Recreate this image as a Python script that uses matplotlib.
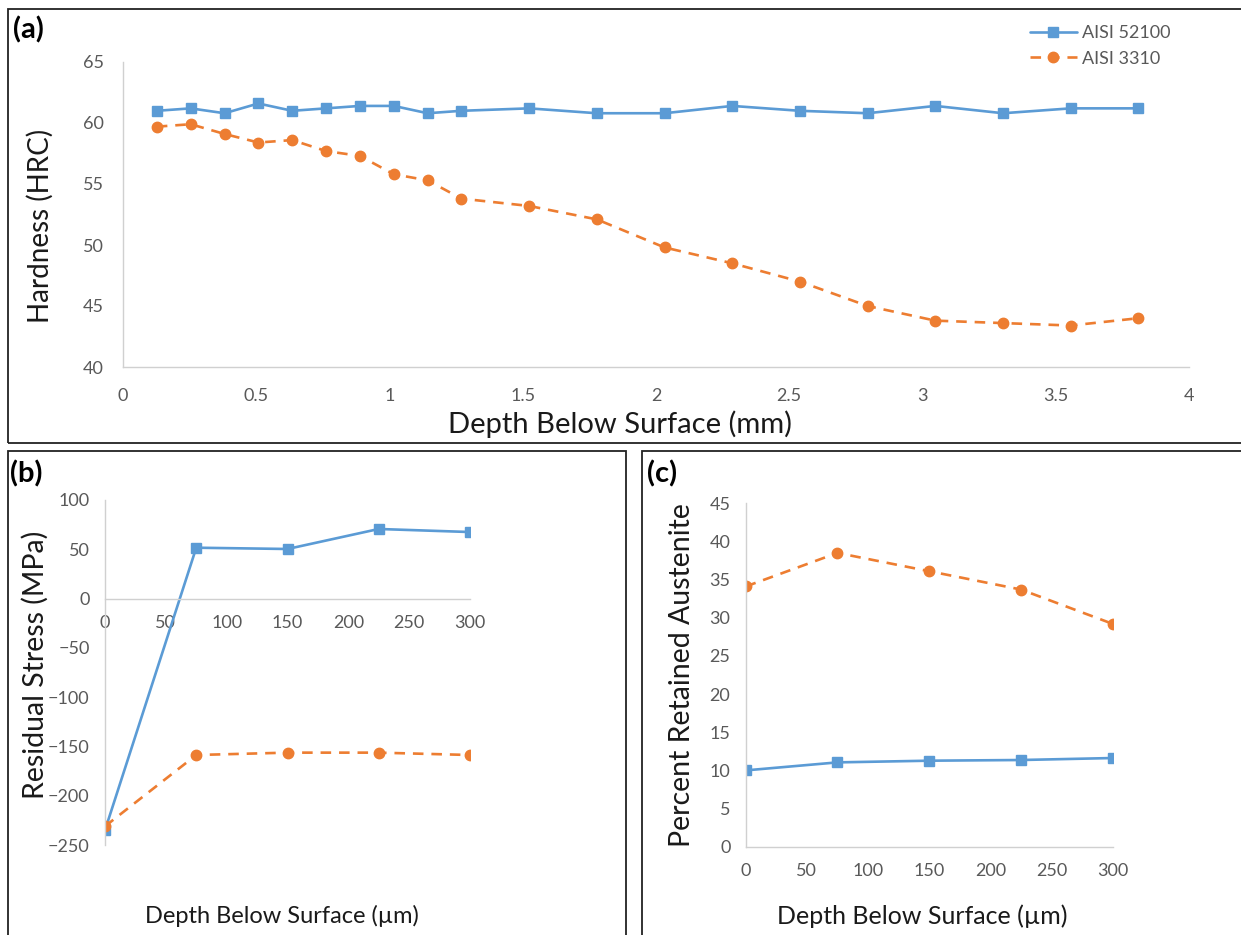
import matplotlib
matplotlib.use("Agg")
import matplotlib.pyplot as plt
from matplotlib.patches import Rectangle

plt.rcParams['font.family'] = ['Lato', 'DejaVu Sans']

# ---------------- data ----------------
depth_mm = [0.127, 0.254, 0.381, 0.508, 0.635, 0.762, 0.889, 1.016, 1.143, 1.270,
            1.524, 1.778, 2.032, 2.286, 2.540, 2.794, 3.048, 3.302, 3.556, 3.810]
hrc_52100 = [61.0, 61.2, 60.8, 61.6, 61.0, 61.2, 61.4, 61.4, 60.8, 61.0,
             61.2, 60.8, 60.8, 61.4, 61.0, 60.8, 61.4, 60.8, 61.2, 61.2]
hrc_3310 = [59.7, 59.9, 59.1, 58.4, 58.6, 57.7, 57.3, 55.8, 55.3, 53.8,
            53.2, 52.1, 49.8, 48.5, 47.0, 45.0, 43.8, 43.6, 43.4, 44.0]

depth_um = [0, 75, 150, 225, 300]
rs_52100 = [-235, 51.6, 50.3, 70.6, 67.5]
rs_3310 = [-231, -158.7, -156.3, -156.3, -158.7]
ra_52100 = [10.0, 11.05, 11.27, 11.36, 11.62]
ra_3310 = [34.1, 38.5, 36.1, 33.7, 29.2]

labels = ['AISI 52100', 'AISI 3310']
blue = '#5B9BD5'
orange = '#ED7D31'
tick_color = '#595959'
spine_color = '#D0D0D0'

W, H = 1241, 935
fig = plt.figure(figsize=(W / 100, H / 100), dpi=100)

def fx(px):
    return px / W

def fy(py):
    return 1 - py / H

def axes_px(l, r, t, b):
    return fig.add_axes([fx(l), fy(b), fx(r) - fx(l), fy(t) - fy(b)])

def style(ax, xpad, ypad, fs=13):
    for s in ['top', 'right']:
        ax.spines[s].set_visible(False)
    for s in ['left', 'bottom']:
        ax.spines[s].set_color(spine_color)
        ax.spines[s].set_linewidth(1.0)
    ax.tick_params(axis='both', length=0, labelcolor=tick_color, labelsize=fs)
    ax.tick_params(axis='x', pad=xpad)
    ax.tick_params(axis='y', pad=ypad)
    ax.patch.set_visible(False)

line_kw_b = dict(color=blue, lw=1.9, marker='s', ms=7.5, solid_capstyle='round')
line_kw_o = dict(color=orange, lw=1.9, ls=(0, (4, 3)), marker='o', ms=7.5)

# ---------------- panel (a) ----------------
axa = axes_px(123, 1189, 62, 367)
axa.plot(depth_mm, hrc_52100, label=labels[0], **line_kw_b)
axa.plot(depth_mm, hrc_3310, label=labels[1], **line_kw_o)
axa.set_xlim(0, 4)
axa.set_ylim(40, 65)
axa.set_xticks([0, 0.5, 1, 1.5, 2, 2.5, 3, 3.5, 4])
axa.set_xticklabels(['0', '0.5', '1', '1.5', '2', '2.5', '3', '3.5', '4'])
axa.set_yticks([40, 45, 50, 55, 60, 65])
style(axa, xpad=15, ypad=14)
leg = axa.legend(loc='center left', bbox_to_anchor=(fx(1030), fy(46)),
                 bbox_transform=fig.transFigure, frameon=False, fontsize=13,
                 handlelength=2.6, handletextpad=0.3, labelspacing=0.5,
                 borderpad=0, borderaxespad=0)
for t in leg.get_texts():
    t.set_color(tick_color)
fig.text(fx(620), fy(424), 'Depth Below Surface (mm)', ha='center', va='center',
         fontsize=21, color='#1a1a1a')
fig.text(fx(40), fy(226), 'Hardness (HRC)', ha='center', va='center',
         fontsize=20, rotation=90, color='#1a1a1a')

# ---------------- panel (b) ----------------
axb = axes_px(105, 470, 500, 845)
axb.plot(depth_um, rs_52100, **line_kw_b)
axb.plot(depth_um, rs_3310, **line_kw_o)
axb.set_xlim(0, 300)
axb.set_ylim(-250, 100)
axb.set_xticks([0, 50, 100, 150, 200, 250, 300])
axb.set_yticks([-250, -200, -150, -100, -50, 0, 50, 100])
style(axb, xpad=12, ypad=11)
axb.spines['bottom'].set_position(('data', 0))
fig.text(fx(282), fy(916), 'Depth Below Surface (\u00b5m)', ha='center', va='center',
         fontsize=17, color='#1a1a1a')
fig.text(fx(35), fy(665), 'Residual Stress (MPa)', ha='center', va='center',
         fontsize=20.5, rotation=90, color='#1a1a1a')

# ---------------- panel (c) ----------------
axc = axes_px(745.7, 1112.7, 503.3, 846.7)
axc.plot(depth_um, ra_52100, **line_kw_b)
axc.plot(depth_um, ra_3310, **line_kw_o)
axc.set_xlim(0, 300)
axc.set_ylim(0, 45)
axc.set_xticks([0, 50, 100, 150, 200, 250, 300])
axc.set_yticks(list(range(0, 50, 5)))
style(axc, xpad=12, ypad=11)
fig.text(fx(922), fy(916), 'Depth Below Surface (\u00b5m)', ha='center', va='center',
         fontsize=18, color='#1a1a1a')
fig.text(fx(682), fy(675), 'Percent Retained Austenite', ha='center', va='center',
         fontsize=20.5, rotation=90, color='#1a1a1a')

# ---------------- panel frames and letters ----------------
frames = [(8, 9, 1260, 443), (8, 451, 626, 960), (642, 451, 1260, 960)]
for (l, t, r, b) in frames:
    fig.add_artist(Rectangle((fx(l), fy(b)), fx(r) - fx(l), fy(t) - fy(b),
                             transform=fig.transFigure, fill=False,
                             ec='#222222', lw=1.3))
fig.text(fx(13), fy(30), '(a)', fontsize=21, fontweight='bold', va='center', ha='left')
fig.text(fx(10), fy(474), '(b)', fontsize=21, fontweight='bold', va='center', ha='left')
fig.text(fx(647), fy(474), '(c)', fontsize=21, fontweight='bold', va='center', ha='left')

fig.savefig('out.png', dpi=100)
